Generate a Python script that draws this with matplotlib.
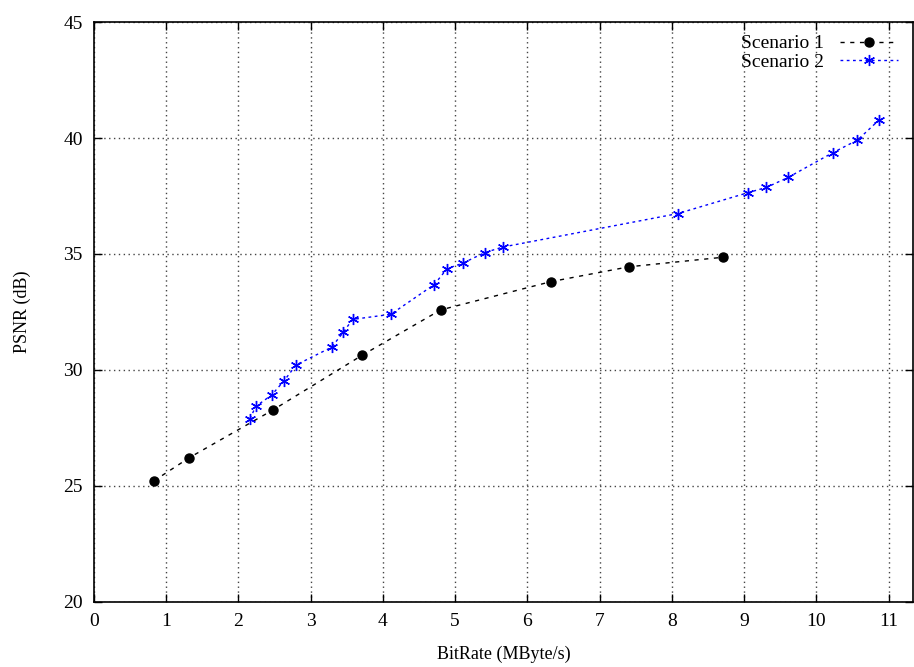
import matplotlib
matplotlib.use("Agg")
import matplotlib.pyplot as plt

# Scenario 1: bitrate (MByte/s) vs PSNR (dB)
s1_rate = [0.83, 1.32, 2.48, 3.71, 4.80, 6.33, 7.41, 8.71]
s1_psnr = [25.22, 26.22, 28.28, 30.63, 32.59, 33.81, 34.45, 34.86]

# Scenario 2
s2_rate = [2.16, 2.24, 2.46, 2.63, 2.80, 3.29, 3.45, 3.58, 4.11, 4.71, 4.89,
           5.11, 5.41, 5.66, 8.08, 9.05, 9.31, 9.61, 10.23, 10.57, 10.87]
s2_psnr = [27.90, 28.43, 28.92, 29.53, 30.22, 30.98, 31.62, 32.18, 32.40, 33.68, 34.37,
           34.61, 35.06, 35.30, 36.74, 37.64, 37.87, 38.30, 39.37, 39.91, 40.78]

x_ticks = list(range(0, 12))
y_ticks = [20, 25, 30, 35, 40, 45]

plt.rcParams['font.family'] = ['Liberation Serif', 'DejaVu Serif']

fig = plt.figure(figsize=(9.14, 6.67), dpi=100)
ax = fig.add_axes([0.1028, 0.0975, 0.8962, 0.8695])

ax.plot(s1_rate, s1_psnr, color='black', linewidth=1.0, dashes=(3, 4),
        marker='o', markersize=6.5, markerfacecolor='black',
        markeredgecolor='black', label='Scenario 1')
ax.plot(s2_rate, s2_psnr, color='blue', linewidth=1.0, dashes=(2, 2.5),
        marker=(6, 2, 0), markersize=8, markeredgewidth=1.0,
        markeredgecolor='blue', label='Scenario 2')

ax.set_xlim(0, 11.34)
ax.set_ylim(20, 45)
ax.set_xticks(x_ticks)
ax.set_yticks(y_ticks)
ax.tick_params(direction='in', top=True, right=True, length=6, width=1,
               labelsize=14, pad=8)
ax.grid(True, linestyle=(0, (1, 2.5)), color='#444444', linewidth=1.0)
for s in ax.spines.values():
    s.set_linewidth(1.2)

ax.set_xlabel('BitRate (MByte/s)', fontsize=13, labelpad=11)
ax.set_ylabel('PSNR (dB)', fontsize=13, labelpad=23)

ax.legend(loc='upper right', bbox_to_anchor=(0.982, 0.978),
          frameon=False, markerfirst=False, fontsize=14,
          handlelength=3.0, handletextpad=0.8,
          borderaxespad=0.0, borderpad=0.0, labelspacing=0.05)

fig.savefig('out.png', dpi=100)
